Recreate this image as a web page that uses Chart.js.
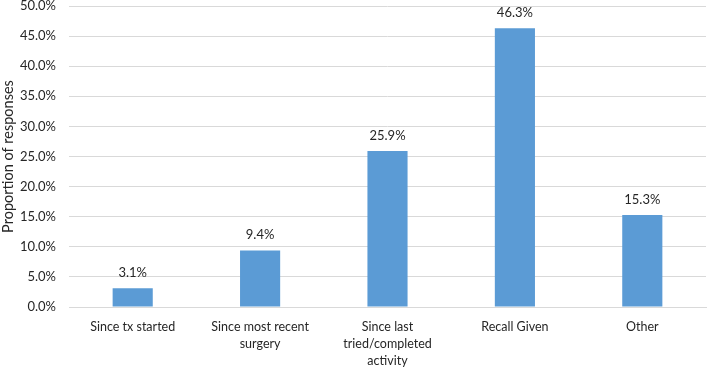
<!DOCTYPE html>
<html>
<head>
<meta charset="utf-8">
<script src="https://cdn.jsdelivr.net/npm/chart.js@4"></script>
<style>
html,body{margin:0;padding:0;background:#fff;}
#wrap{width:707px;height:368px;position:relative;}
</style>
</head>
<body>
<div id="wrap"><canvas id="c" width="707" height="368"></canvas></div>
<script>
const categories = [["Since tx started"], ["Since most recent","surgery"], ["Since last","tried/completed","activity"], ["Recall Given"], ["Other"]];
const values = [3.1, 9.4, 25.9, 46.3, 15.3];
const yTicks = [0, 5, 10, 15, 20, 25, 30, 35, 40, 45, 50];
const yTitle = "Proportion of responses";

const FONT = "Lato, 'Open Sans', sans-serif";

const labelPlugin = {
  id: 'valueLabels',
  afterDatasetsDraw(chart) {
    const ctx = chart.ctx;
    const meta = chart.getDatasetMeta(0);
    ctx.save();
    ctx.font = "13px " + FONT;
    ctx.fillStyle = "#262626";
    ctx.textAlign = "center";
    ctx.textBaseline = "alphabetic";
    meta.data.forEach((bar, i) => {
      ctx.fillText(values[i].toFixed(1) + "%", bar.x, bar.y - 11);
    });
    ctx.restore();
  }
};

new Chart(document.getElementById('c'), {
  type: 'bar',
  data: {
    labels: categories,
    datasets: [{
      data: values,
      backgroundColor: '#5b9bd5',
      borderWidth: 0,
      categoryPercentage: 1,
      barPercentage: 0.315
    }]
  },
  options: {
    responsive: false,
    animation: false,
    layout: { padding: { top: 0, right: 1, bottom: 0, left: 0 } },
    plugins: { legend: { display: false }, tooltip: { enabled: false } },
    scales: {
      x: {
        grid: { display: false, drawTicks: false },
        border: { display: true, color: '#d9d9d9', width: 1 },
        ticks: { color: '#262626', font: { family: FONT, size: 12.5, lineHeight: 1.38 }, maxRotation: 0, autoSkip: false, padding: 11 },
        afterFit(scale) { scale.height = 61; scale.paddingLeft = 0; scale.paddingRight = 0; }
      },
      y: {
        min: 0, max: 50,
        afterBuildTicks(scale) { scale.ticks = yTicks.map(v => ({ value: v })); },
        grid: { color: '#d9d9d9', drawTicks: false },
        border: { display: false },
        ticks: { color: '#262626', font: { family: FONT, size: 13 }, padding: 13,
          callback: v => Number(v).toFixed(1) + '%' },
        title: { display: true, text: yTitle, color: '#262626', font: { family: FONT, size: 14.5 }, padding: { top: 0, bottom: 0 } },
        afterFit(scale) { scale.width = 69; scale.paddingTop = 6; scale.paddingBottom = 0; }
      }
    }
  },
  plugins: [labelPlugin]
});
</script>
</body>
</html>
